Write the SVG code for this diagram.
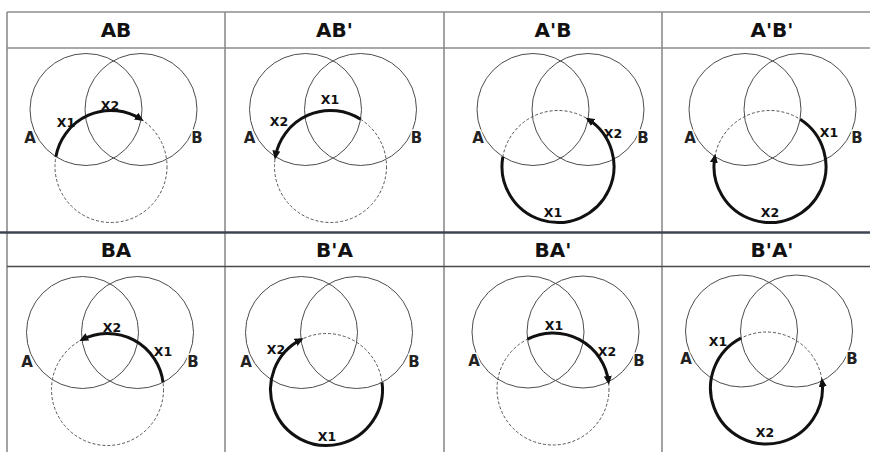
<svg xmlns="http://www.w3.org/2000/svg" xmlns:xlink="http://www.w3.org/1999/xlink" width="870" height="452" viewBox="0 0 870 452">
<style>
.grid{stroke:#8c8c8c;stroke-width:1.6;fill:none}
.div{stroke:#3e4452;stroke-width:2.6;fill:none}
.hdr2{stroke:#4a4a4a;stroke-width:1.6;fill:none}
.c{fill:none;stroke:#4d4d4d;stroke-width:1}
.d{fill:none;stroke:#555;stroke-width:1;stroke-dasharray:3 2}
.arc{fill:none;stroke:#111;stroke-width:3;marker-end:url(#ah)}
.h{font-family:"DejaVu Sans",Verdana,sans-serif;font-weight:bold;font-size:20px;text-anchor:middle;fill:#111}
.l{font-family:"DejaVu Sans",Verdana,sans-serif;font-weight:bold;font-size:15px;text-anchor:middle;fill:#222;stroke:#fff;stroke-width:3;paint-order:stroke}
.x{font-family:"DejaVu Sans",Verdana,sans-serif;font-weight:bold;font-size:12.5px;text-anchor:middle;fill:#111}
</style>
<defs>
<marker id="ah" markerUnits="userSpaceOnUse" viewBox="0 0 9 8" markerWidth="9" markerHeight="8" refX="6" refY="4" orient="auto"><path d="M0,0 L9,4 L0,8 z" fill="#111"/></marker>
<g id="venn">
<circle class="c" cx="0" cy="0" r="56"/>
<circle class="c" cx="55" cy="0" r="56"/>
<circle class="d" cx="25" cy="57" r="56"/>
</g>
</defs>
<rect width="870" height="452" fill="#fff"/>
<g id="grid">
<line class="grid" x1="7" y1="12" x2="870" y2="12"/>
<line class="grid" x1="7" y1="48" x2="870" y2="48"/>
<line class="grid" x1="7" y1="12" x2="7" y2="452"/>
<line class="grid" x1="225" y1="12" x2="225" y2="452"/>
<line class="grid" x1="444" y1="12" x2="444" y2="452"/>
<line class="grid" x1="662" y1="12" x2="662" y2="452"/>
<line class="div" x1="0" y1="232.5" x2="870" y2="232.5"/>
<line class="hdr2" x1="7" y1="266.5" x2="870" y2="266.5"/>
</g>
<g id="panel-AB">
<text class="h" x="116" y="37">AB</text>
<use xlink:href="#venn" href="#venn" transform="translate(86,109.5)"/>
<text class="l" x="30" y="143">A</text><text class="l" x="197" y="143">B</text>
<text class="x" x="66" y="127">X1</text><text class="x" x="110" y="110">X2</text>
</g>
<g id="panel-ABp">
<text class="h" x="334.5" y="37">AB'</text>
<use xlink:href="#venn" href="#venn" transform="translate(305.5,109.5)"/>
<text class="l" x="249.5" y="143">A</text><text class="l" x="416.5" y="143">B</text>
<text class="x" x="330" y="104">X1</text><text class="x" x="279" y="126">X2</text>
</g>
<g id="panel-ApB">
<text class="h" x="553" y="37">A'B</text>
<use xlink:href="#venn" href="#venn" transform="translate(533,109.5)"/>
<text class="l" x="478" y="143">A</text><text class="l" x="643" y="143">B</text>
<text class="x" x="553" y="217">X1</text><text class="x" x="613" y="138">X2</text>
</g>
<g id="panel-ApBp">
<text class="h" x="772" y="37">A'B'</text>
<use xlink:href="#venn" href="#venn" transform="translate(745,109.5)"/>
<text class="l" x="690" y="143">A</text><text class="l" x="857" y="143">B</text>
<text class="x" x="829" y="137">X1</text><text class="x" x="770" y="217">X2</text>
</g>
<g id="panel-BA">
<text class="h" x="116" y="257">BA</text>
<use xlink:href="#venn" href="#venn" transform="translate(82.5,332.5)"/>
<text class="l" x="27" y="367">A</text><text class="l" x="193" y="367">B</text>
<text class="x" x="163" y="356">X1</text><text class="x" x="112" y="332">X2</text>
</g>
<g id="panel-BpA">
<text class="h" x="334.5" y="257">B'A</text>
<use xlink:href="#venn" href="#venn" transform="translate(301.5,332.5)"/>
<text class="l" x="246" y="367">A</text><text class="l" x="414" y="367">B</text>
<text class="x" x="327" y="441">X1</text><text class="x" x="276" y="354">X2</text>
</g>
<g id="panel-BAp">
<text class="h" x="553" y="257">BA'</text>
<use xlink:href="#venn" href="#venn" transform="translate(528,332)"/>
<text class="l" x="474" y="366">A</text><text class="l" x="639" y="366">B</text>
<text class="x" x="554" y="330">X1</text><text class="x" x="607" y="356">X2</text>
</g>
<g id="panel-BpAp">
<text class="h" x="772" y="257">B'A'</text>
<use xlink:href="#venn" href="#venn" transform="translate(741.5,331)"/>
<text class="l" x="686" y="364">A</text><text class="l" x="852" y="364">B</text>
<text class="x" x="718" y="346">X1</text><text class="x" x="765" y="437">X2</text>
</g>
<g id="connectors">
<path class="arc" transform="translate(86,109.5)" d="M-30.14,47.2 A56,56 0 0 1 55.14,9.8"/>
<path class="arc" transform="translate(305.5,109.5)" d="M55.14,9.8 A56,56 0 0 0 -30.14,47.2"/>
<path class="arc" transform="translate(533,109.5)" d="M-30.14,47.2 A56,56 0 1 0 55.14,9.8"/>
<path class="arc" transform="translate(745,109.5)" d="M55.14,9.8 A56,56 0 1 1 -30.14,47.2"/>
<path class="arc" transform="translate(82.5,332.5)" d="M80.54,49.84 A56,56 0 0 0 -0.54,7.16"/>
<path class="arc" transform="translate(301.5,332.5)" d="M80.54,49.84 A56,56 0 1 1 -0.54,7.16"/>
<path class="arc" transform="translate(528,332)" d="M-0.54,7.16 A56,56 0 0 1 80.54,49.84"/>
<path class="arc" transform="translate(741.5,331)" d="M-0.54,7.16 A56,56 0 1 0 80.54,49.84"/>
</g>
</svg>
